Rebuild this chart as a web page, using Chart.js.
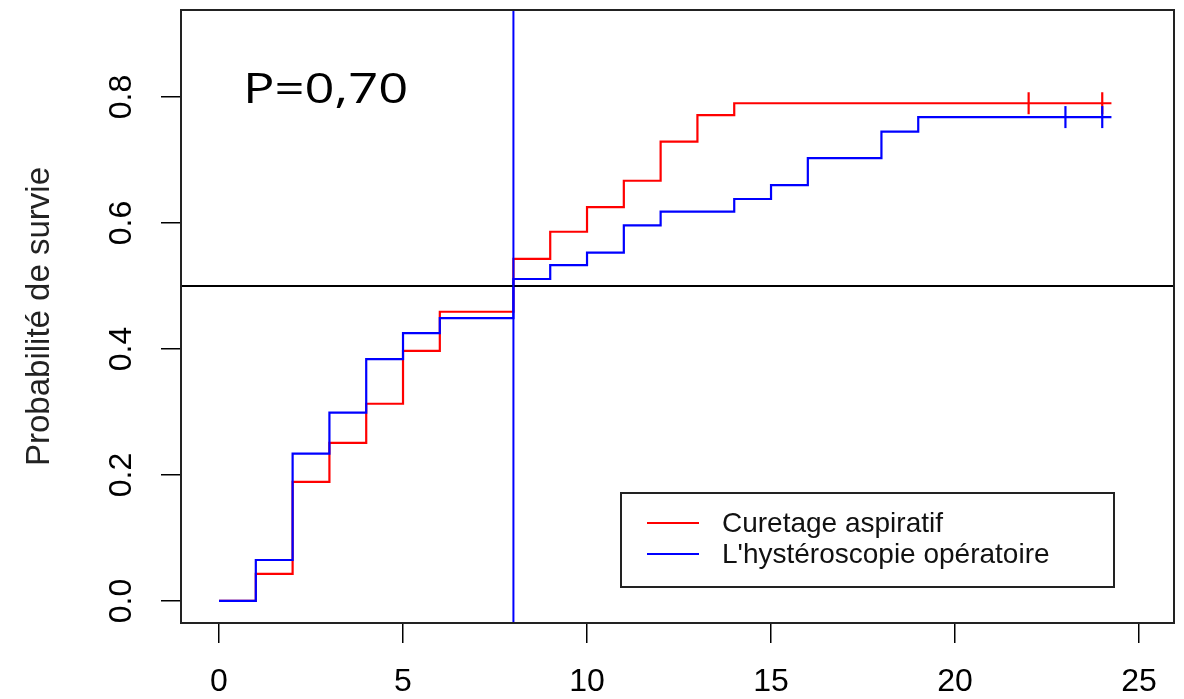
<!DOCTYPE html>
<html>
<head>
<meta charset="utf-8">
<script src="https://cdn.jsdelivr.net/npm/chart.js@4.4.0/dist/chart.umd.min.js"></script>
<style>
html, body { margin: 0; padding: 0; background: #fff; }
#wrap { width: 1184px; height: 699px; }
</style>
</head>
<body>
<div id="wrap"><canvas id="kmChart"></canvas></div>
<script>
// courbes de Kaplan-Meier (temps, probabilité)
const tempsCuretage = [0, 1, 2, 3, 4, 5, 6, 8, 9, 10, 11, 12, 13, 14, 24.25];
const survieCuretage = [0, 0.043, 0.189, 0.251, 0.313, 0.397, 0.459, 0.543, 0.586, 0.625, 0.667, 0.729, 0.771, 0.790, 0.790];
const censureCuretage = [22, 24];

const tempsHysteroscopie = [0, 1, 2, 3, 4, 5, 6, 8, 9, 10, 11, 12, 14, 15, 16, 18, 19, 24.25];
const survieHysteroscopie = [0, 0.065, 0.234, 0.299, 0.384, 0.425, 0.449, 0.511, 0.533, 0.553, 0.596, 0.618, 0.638, 0.660, 0.703, 0.745, 0.768, 0.768];
const censureHysteroscopie = [23, 24];

const nomsGroupes = ['Curetage aspiratif', "L'hystéroscopie opératoire"];
const xTicks = [0, 5, 10, 15, 20, 25];
const yTicks = [0, 0.2, 0.4, 0.6, 0.8];
const ligneVerticale = 8;
const ligneHorizontale = 0.5;
const texteP = 'P=0,70';

const ROUGE = '#ff0000';
const BLEU = '#0000ff';
const police = '"Liberation Sans", Arial, sans-serif';

function valeurA(temps, survie, t) {
    let v = survie[0];
    for (let i = 0; i < temps.length; i++) {
        if (temps[i] <= t) v = survie[i];
    }
    return v;
}

function points(temps, survie) {
    return temps.map((t, i) => ({ x: t, y: survie[i] }));
}

function censures(temps, survie, liste) {
    return liste.map(t => ({ x: t, y: valeurA(temps, survie, t) }));
}

function courbe(label, data, couleur, ordre) {
    return {
        label: label,
        data: data,
        borderColor: couleur,
        borderWidth: 2.2,
        stepped: 'before',
        pointRadius: 0,
        fill: false,
        order: ordre
    };
}

function marques(data, couleur, ordre) {
    return {
        label: '',
        data: data,
        showLine: false,
        borderColor: couleur,
        backgroundColor: couleur,
        pointStyle: 'line',
        pointRotation: 90,
        pointRadius: 11,
        pointBorderWidth: 2.2,
        order: ordre,
        isCensure: true
    };
}

// lignes de référence, cadre, légende et P
const decorPlugin = {
    id: 'decor',
    afterDatasetsDraw(chart) {
        const ctx = chart.ctx;
        const a = chart.chartArea;
        const xs = chart.scales.x, ys = chart.scales.y;
        ctx.save();
        ctx.lineWidth = 2;
        ctx.strokeStyle = '#000';
        const yp = ys.getPixelForValue(ligneHorizontale);
        ctx.beginPath();
        ctx.moveTo(a.left, yp);
        ctx.lineTo(a.right, yp);
        ctx.stroke();
        ctx.strokeStyle = BLEU;
        const xp = xs.getPixelForValue(ligneVerticale);
        ctx.beginPath();
        ctx.moveTo(xp, a.top);
        ctx.lineTo(xp, a.bottom);
        ctx.stroke();
        ctx.restore();
    },
    afterDraw(chart) {
        const ctx = chart.ctx;
        const a = chart.chartArea;
        ctx.save();
        ctx.strokeStyle = '#222';
        ctx.lineWidth = 2;
        ctx.strokeRect(a.left, a.top, a.right - a.left, a.bottom - a.top);

        // légende
        const bx = 621, by = 493, bw = 493, bh = 94;
        ctx.fillStyle = '#fff';
        ctx.fillRect(bx, by, bw, bh);
        ctx.strokeRect(bx, by, bw, bh);
        const series = chart.data.datasets.filter(d => !d.isCensure);
        const lignesY = [523, 554];
        ctx.font = '28px ' + police;
        ctx.textBaseline = 'middle';
        ctx.textAlign = 'left';
        series.forEach((d, i) => {
            ctx.strokeStyle = d.borderColor;
            ctx.lineWidth = 2;
            ctx.beginPath();
            ctx.moveTo(647, lignesY[i]);
            ctx.lineTo(699, lignesY[i]);
            ctx.stroke();
            ctx.fillStyle = '#111';
            ctx.fillText(d.label, 722, lignesY[i] + 1);
        });

        // texte P
        ctx.fillStyle = '#000';
        ctx.font = '42px "Open Sans", "Noto Sans", sans-serif';
        ctx.textBaseline = 'alphabetic';
        ctx.translate(243, 103);
        ctx.scale(1.25, 1);
        ctx.fillText(texteP, 0, 0);
        ctx.restore();
    }
};

const data = {
    datasets: [
        courbe(nomsGroupes[0], points(tempsCuretage, survieCuretage), ROUGE, 3),
        courbe(nomsGroupes[1], points(tempsHysteroscopie, survieHysteroscopie), BLEU, 1),
        marques(censures(tempsCuretage, survieCuretage, censureCuretage), ROUGE, 2),
        marques(censures(tempsHysteroscopie, survieHysteroscopie, censureHysteroscopie), BLEU, 0)
    ]
};

const grille = {
    drawOnChartArea: false,
    drawTicks: true,
    tickLength: 20,
    color: '#000',
    lineWidth: 1.5
};

const config = {
    type: 'line',
    data: data,
    options: {
        responsive: true,
        maintainAspectRatio: false,
        animation: false,
        layout: { autoPadding: false, padding: { top: 10, right: 10, left: 0, bottom: 0 } },
        plugins: {
            legend: { display: false },
            tooltip: { enabled: false }
        },
        scales: {
            x: {
                type: 'linear',
                min: -1.033,
                max: 25.95,
                afterBuildTicks: s => { s.ticks = xTicks.map(v => ({ value: v })); },
                afterFit: s => { s.height = 76; s.paddingLeft = 0; s.paddingRight = 0; },
                ticks: {
                    autoSkip: false,
                    maxRotation: 0,
                    padding: 20,
                    color: '#000',
                    font: { family: police, size: 32 },
                    callback: v => String(v)
                },
                grid: grille,
                border: { display: true, color: '#222', width: 2 }
            },
            y: {
                type: 'linear',
                min: -0.035,
                max: 0.938,
                afterBuildTicks: s => { s.ticks = yTicks.map(v => ({ value: v })); },
                afterFit: s => { s.width = 181; s.paddingTop = 0; s.paddingBottom = 0; },
                ticks: {
                    autoSkip: false,
                    minRotation: 90,
                    maxRotation: 90,
                    crossAlign: 'center',
                    padding: 17,
                    color: '#000',
                    font: { family: police, size: 32 },
                    callback: v => v.toFixed(1)
                },
                grid: grille,
                border: { display: true, color: '#222', width: 2 },
                title: {
                    display: true,
                    text: 'Probabilité de survie',
                    color: '#222',
                    font: { family: police, size: 33 },
                    padding: { top: 20, bottom: 0 }
                }
            }
        }
    },
    plugins: [decorPlugin]
};

new Chart(document.getElementById('kmChart'), config);
</script>
</body>
</html>
